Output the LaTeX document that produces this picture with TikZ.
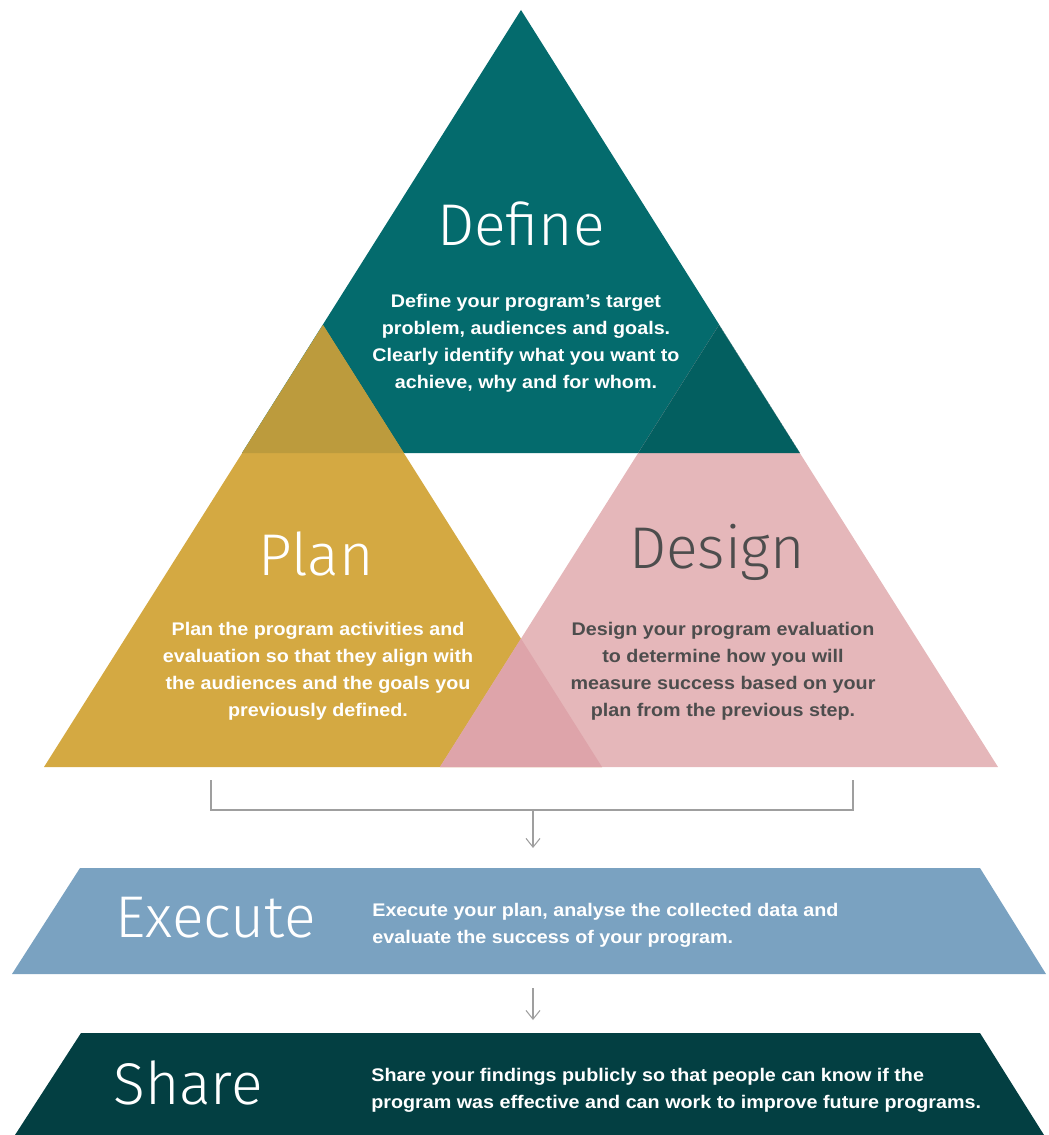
\documentclass[tikz,border=0pt]{standalone}
\usepackage{fontspec}
\setmainfont{Fira Sans}[BoldFont={Fira Sans SemiBold}]
\newfontfamily\thinfont{Fira Sans Light}
\newfontfamily\blurbfont{Liberation Sans}[FakeStretch=1.08]
\usetikzlibrary{positioning,arrows.meta}

\definecolor{defteal}{HTML}{046B6D}
\definecolor{plangold}{HTML}{D4A942}
\definecolor{designpink}{HTML}{E5B7BA}
\definecolor{plandef}{HTML}{BC9B3D}
\definecolor{designdef}{HTML}{035F60}
\definecolor{plandesign}{HTML}{DEA4AA}
\definecolor{execblue}{HTML}{7AA2C1}
\definecolor{sharegreen}{HTML}{033F42}
\definecolor{darktext}{HTML}{4D4D4D}

\begin{document}
\begin{tikzpicture}[x=0.02cm, y=-0.02cm,
    title/.style={font=\thinfont\fontsize{33.5}{40}\selectfont, text=white, inner sep=0pt},
    blurb/.style={font=\blurbfont\bfseries\fontsize{10.4}{15.3}\selectfont, text=white, align=center, inner sep=0pt},
    flow/.style={gray!75, line width=0.6pt},
    ]
        \useasboundingbox (0,0) rectangle (1048,1135);

        % the three triangles
        \def\triDefine{(521,10) -- (800,453) -- (242,453) -- cycle}
        \def\triPlan{(323,325) -- (602,767) -- (44,767) -- cycle}
        \def\triDesign{(719,325) -- (998,767) -- (440,767) -- cycle}

        \fill[defteal] \triDefine;
        \fill[plangold] \triPlan;
        \fill[designpink] \triDesign;

        \begin{scope}
            \clip \triDefine;
            \fill[plandef] \triPlan;
            \fill[designdef] \triDesign;
        \end{scope}
        \begin{scope}
            \clip \triPlan;
            \fill[plandesign] \triDesign;
        \end{scope}

        \node[title] (define) at (521,224) {Define};
        \node[blurb] (defineText) at (526,343) {Define your program’s target\\problem, audiences and goals.\\Clearly identify what you want to\\achieve, why and for whom.};

        \node[title] (plan) at (316,554) {Plan};
        \node[blurb] (planText) at (318,671) {Plan the program activities and\\evaluation so that they align with\\the audiences and the goals you\\previously defined.};

        \node[title, text=darktext] (design) at (717,552) {Design};
        \node[blurb, text=darktext] (designText) at (723,671) {Design your program evaluation\\to determine how you will\\measure success based on your\\plan from the previous step.};

        % bracket and arrows
        \coordinate (brL) at (211,780);
        \coordinate (brR) at (853,780);
        \coordinate (brM) at (533,810);
        \coordinate (execIn) at (533,848);
        \draw[flow] (brL) |- (brM) -| (brR);
        \draw[flow, -{Straight Barb[length=5pt, width=8pt]}] (brM) -- (execIn);

        \fill[execblue] (80,868) -- (980,868) -- (1046,974) -- (12,974) -- cycle;
        \node[title, anchor=west] (execute) at (115,918) {Execute};
        \node[blurb, align=left, anchor=west] (executeText) at (372,925) {Execute your plan, analyse the collected data and\\evaluate the success of your program.};

        \coordinate (execOut) at (533,988);
        \coordinate (shareIn) at (533,1020);
        \draw[flow, -{Straight Barb[length=5pt, width=8pt]}] (execOut) -- (shareIn);

        \fill[sharegreen] (81,1033) -- (980,1033) -- (1044,1135) -- (15,1135) -- cycle;
        \node[title, anchor=west] (share) at (113,1083) {Share};
        \node[blurb, align=left, anchor=west] (shareText) at (371,1090) {Share your findings publicly so that people can know if the\\program was effective and can work to improve future programs.};
\end{tikzpicture}
\end{document}
